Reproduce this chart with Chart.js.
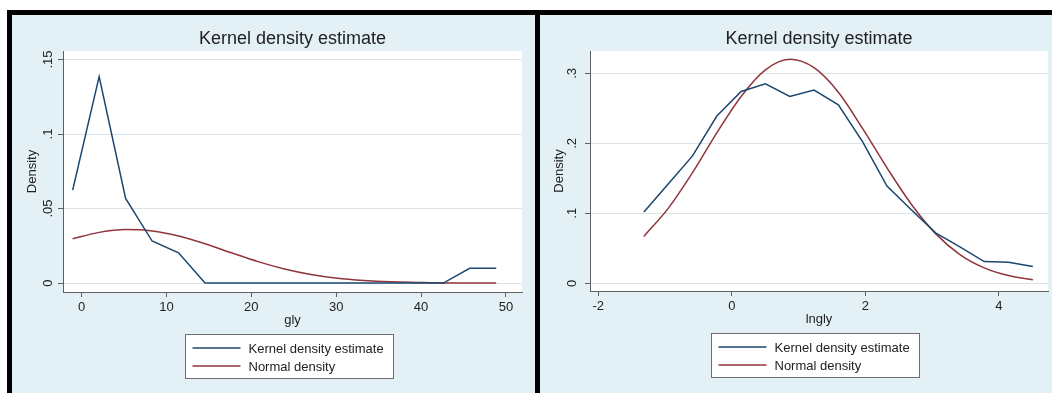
<!DOCTYPE html>
<html>
<head>
<meta charset="utf-8">
<script src="https://cdn.jsdelivr.net/npm/chart.js@4"></script>
<style>
body { margin:0; background:#fff; width:1052px; height:393px; overflow:hidden; position:relative; }
#frame { position:absolute; left:7px; top:10px; width:1045px; height:383px; background:#000; }
.panel { position:absolute; top:15px; height:378px; }
#left { left:12px; width:523px; }
#right { left:540px; width:512px; }
canvas { display:block; }
</style>
</head>
<body>
<div id="frame"></div>
<div class="panel" id="left"><canvas id="chartGly" width="523" height="378"></canvas></div>
<div class="panel" id="right"><canvas id="chartLngly" width="512" height="378"></canvas></div>
<script>
// values
var seriesNames = ['Kernel density estimate', 'Normal density'];

var glyGrid = [-1.06, 2.06, 5.18, 8.3, 11.42, 14.54, 17.66, 20.78, 23.9, 27.02, 30.14, 33.26, 36.38, 39.5, 42.62, 45.74, 48.86];
var glyKernel = [0.0624, 0.1385, 0.0568, 0.0282, 0.0203, 0, 0, 0, 0, 0, 0, 0, 0, 0, 0, 0.0099, 0.0099];
var glyNormal = [0.0297, 0.0340, 0.0359, 0.0350, 0.0316, 0.0264, 0.0203, 0.0144, 0.0095, 0.0058, 0.0032, 0.0017, 0.0008, 0.0004, 0.0001, 0.0001, 0.0000];
var glyXTicks = [0, 10, 20, 30, 40, 50];
var glyYTicks = [0, 0.05, 0.1, 0.15];
var glyYLabels = ['0', '.05', '.1', '.15'];

var lnglyGrid = [-1.317, -0.953, -0.589, -0.225, 0.139, 0.503, 0.867, 1.231, 1.595, 1.959, 2.323, 2.687, 3.051, 3.415, 3.779, 4.143, 4.507];
var lnglyKernel = [0.102, 0.142, 0.182, 0.239, 0.274, 0.285, 0.267, 0.276, 0.255, 0.202, 0.139, 0.105, 0.072, 0.052, 0.031, 0.030, 0.024];
var lnglyNormal = [0.067, 0.107, 0.158, 0.215, 0.267, 0.305, 0.320, 0.308, 0.273, 0.221, 0.165, 0.113, 0.071, 0.041, 0.022, 0.011, 0.005];
var lnglyXTicks = [-2, 0, 2, 4];
var lnglyYTicks = [0, 0.1, 0.2, 0.3];
var lnglyYLabels = ['0', '.1', '.2', '.3'];

var FONT = '"Liberation Sans", Arial, Helvetica, sans-serif';
var NAVY = '#1a476f';
var MAROON = '#90353b';
var BG = '#e3f0f6';
var AXIS = '#5f5f5f';
var TEXT = '#222';

// background, white plot region, boxed legend
var stataLook = {
    id: 'stataLook',
    beforeDraw: function (chart) {
        var ctx = chart.ctx, a = chart.chartArea;
        ctx.save();
        ctx.fillStyle = BG;
        ctx.fillRect(0, 0, chart.width, chart.height);
        ctx.fillStyle = '#fff';
        ctx.fillRect(a.left, a.top, a.right - a.left, a.bottom - a.top);
        ctx.restore();
    },
    afterDraw: function (chart) {
        var ctx = chart.ctx, a = chart.chartArea;
        var w = 208, h = 44;
        var left = Math.round((a.left + a.right) / 2 - w / 2 - 4) + 0.5;
        var top = Math.round(a.bottom + 42) + 0.5;
        ctx.save();
        ctx.fillStyle = '#fff';
        ctx.fillRect(left, top, w, h);
        ctx.strokeStyle = '#6e6e6e';
        ctx.lineWidth = 1;
        ctx.strokeRect(left, top, w, h);
        ctx.font = '13px ' + FONT;
        ctx.textBaseline = 'middle';
        ctx.fillStyle = TEXT;
        chart.data.datasets.forEach(function (ds, i) {
            var y = top + 13.5 + i * 18;
            ctx.strokeStyle = ds.borderColor;
            ctx.lineWidth = 1.5;
            ctx.beginPath();
            ctx.moveTo(left + 7, y);
            ctx.lineTo(left + 55, y);
            ctx.stroke();
            ctx.fillText(ds.label, left + 63, y + 1);
        });
        ctx.restore();
    }
};

function points(xs, ys) {
    return xs.map(function (x, i) { return {x: x, y: ys[i]}; });
}

function makeChart(id, p) {
    return new Chart(document.getElementById(id), {
        type: 'line',
        data: {
            datasets: [{
                label: seriesNames[0],
                data: points(p.grid, p.kernel),
                borderColor: NAVY,
                borderWidth: 1.5,
                pointRadius: 0,
                tension: 0
            }, {
                label: seriesNames[1],
                data: points(p.grid, p.normal),
                borderColor: MAROON,
                borderWidth: 1.5,
                pointRadius: 0,
                cubicInterpolationMode: 'monotone'
            }]
        },
        options: {
            responsive: false,
            animation: false,
            devicePixelRatio: 1,
            layout: {padding: {left: 0, right: p.padRight, top: 0, bottom: p.padBottom}},
            plugins: {
                legend: {display: false},
                tooltip: {enabled: false},
                title: {
                    display: true,
                    text: 'Kernel density estimate',
                    fullSize: false,
                    color: TEXT,
                    font: {family: FONT, size: 18, weight: 'normal'},
                    padding: {top: 13.2, bottom: 1.2}
                }
            },
            scales: {
                x: {
                    type: 'linear',
                    min: p.xMin,
                    max: p.xMax,
                    afterBuildTicks: function (s) {
                        s.ticks = p.xTicks.map(function (v) { return {value: v}; });
                    },
                    afterFit: function (s) { s.height = 40; },
                    ticks: {color: TEXT, font: {family: FONT, size: 13}, padding: 3, maxRotation: 0},
                    grid: {drawOnChartArea: false, drawTicks: true, tickLength: 5, tickColor: AXIS},
                    border: {color: AXIS, width: 1},
                    title: {
                        display: true, text: p.xTitle, color: TEXT,
                        font: {family: FONT, size: 13}, padding: {top: 0, bottom: 4}
                    }
                },
                y: {
                    min: p.yMin,
                    max: p.yMax,
                    afterBuildTicks: function (s) {
                        s.ticks = p.yTicks.map(function (v) { return {value: v}; });
                    },
                    afterFit: function (s) { s.width = p.yWidth; },
                    ticks: {
                        color: TEXT, font: {family: FONT, size: 13},
                        minRotation: 90, maxRotation: 90, crossAlign: 'center',
                        padding: p.yTickPad,
                        callback: function (v, i) { return p.yLabels[i]; }
                    },
                    grid: {color: '#dde4e8', lineWidth: 1, drawTicks: true, tickLength: 5, tickColor: AXIS},
                    border: {color: AXIS, width: 1},
                    title: {
                        display: true, text: 'Density', color: TEXT,
                        font: {family: FONT, size: 13}, padding: {top: p.yTitlePad, bottom: 0}
                    }
                }
            }
        },
        plugins: [stataLook]
    });
}

makeChart('chartGly', {
    grid: glyGrid, kernel: glyKernel, normal: glyNormal,
    xTicks: glyXTicks, yTicks: glyYTicks, yLabels: glyYLabels, xTitle: 'gly',
    xMin: -2.2, xMax: 51.9, yMin: -0.006, yMax: 0.1557,
    yWidth: 51, padRight: 13, padBottom: 61, yTickPad: 1, yTitlePad: 13
});

makeChart('chartLngly', {
    grid: lnglyGrid, kernel: lnglyKernel, normal: lnglyNormal,
    xTicks: lnglyXTicks, yTicks: lnglyYTicks, yLabels: lnglyYLabels, xTitle: 'lngly',
    xMin: -2.124, xMax: 4.734, yMin: -0.011, yMax: 0.3319,
    yWidth: 50, padRight: 4, padBottom: 62, yTickPad: 7, yTitlePad: 11.5
});
</script>
</body>
</html>
